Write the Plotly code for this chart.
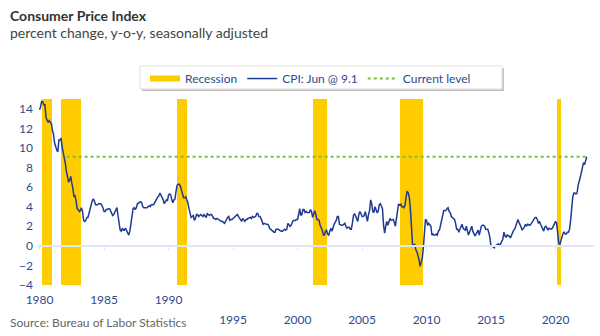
import plotly.graph_objects as go

# ---------------- data ----------------
cpi_start_year = 1980
cpi_yoy = [
    13.9, 14.2, 14.8, 14.7, 14.4, 14.4, 13.1, 12.9, 12.6, 12.8, 12.6, 12.5,   # 1980
    11.8, 11.4, 10.5, 10.0, 9.8, 9.6, 10.8, 10.8, 11.0, 10.1, 9.6, 8.9,       # 1981
    8.4, 7.6, 6.8, 6.5, 6.7, 7.1, 6.4, 5.9, 5.0, 5.1, 4.6, 3.8,               # 1982
    3.7, 3.5, 3.6, 3.9, 3.5, 2.6, 2.5, 2.6, 2.9, 2.9, 3.3, 3.8,               # 1983
    4.2, 4.6, 4.8, 4.6, 4.2, 4.2, 4.2, 4.3, 4.3, 4.3, 4.1, 3.9,               # 1984
    3.5, 3.5, 3.7, 3.7, 3.8, 3.8, 3.6, 3.3, 3.1, 3.2, 3.5, 3.8,               # 1985
    3.9, 3.1, 2.3, 1.6, 1.5, 1.8, 1.6, 1.6, 1.8, 1.5, 1.3, 1.1,               # 1986
    1.5, 2.1, 3.0, 3.8, 3.9, 3.7, 3.9, 4.3, 4.4, 4.5, 4.5, 4.4,               # 1987
    4.0, 3.9, 3.9, 3.9, 3.9, 4.0, 4.1, 4.0, 4.2, 4.2, 4.2, 4.4,               # 1988
    4.7, 4.8, 5.0, 5.1, 5.4, 5.2, 5.0, 4.7, 4.3, 4.5, 4.7, 4.6,               # 1989
    5.2, 5.3, 5.2, 4.7, 4.4, 4.7, 4.8, 5.6, 6.2, 6.3, 6.3, 6.1,               # 1990
    5.7, 5.3, 4.9, 4.9, 5.0, 4.7, 4.4, 3.8, 3.4, 2.9, 3.0, 3.1,               # 1991
    2.6, 2.8, 3.2, 3.2, 3.0, 3.1, 3.2, 3.1, 3.0, 3.2, 3.0, 2.9,               # 1992
    3.3, 3.2, 3.1, 3.2, 3.2, 3.0, 2.8, 2.8, 2.7, 2.8, 2.7, 2.7,               # 1993
    2.5, 2.5, 2.5, 2.4, 2.3, 2.5, 2.8, 2.9, 3.0, 2.6, 2.7, 2.7,               # 1994
    2.8, 2.9, 2.9, 3.1, 3.2, 3.0, 2.8, 2.6, 2.5, 2.8, 2.6, 2.5,               # 1995
    2.7, 2.7, 2.8, 2.9, 2.9, 2.8, 3.0, 2.9, 3.0, 3.0, 3.3, 3.3,               # 1996
    3.0, 3.0, 2.8, 2.5, 2.2, 2.3, 2.2, 2.2, 2.2, 2.1, 1.8, 1.7,               # 1997
    1.6, 1.4, 1.4, 1.4, 1.7, 1.7, 1.7, 1.6, 1.5, 1.5, 1.5, 1.6,               # 1998
    1.7, 1.6, 1.7, 2.3, 2.1, 2.0, 2.1, 2.3, 2.6, 2.6, 2.6, 2.7,               # 1999
    2.7, 3.2, 3.8, 3.1, 3.2, 3.7, 3.7, 3.4, 3.5, 3.4, 3.4, 3.4,               # 2000
    3.7, 3.5, 2.9, 3.3, 3.6, 3.2, 2.7, 2.7, 2.6, 2.1, 1.9, 1.6,               # 2001
    1.1, 1.1, 1.5, 1.6, 1.2, 1.1, 1.5, 1.8, 1.5, 2.0, 2.2, 2.4,               # 2002
    2.6, 3.0, 3.0, 2.2, 2.1, 2.1, 2.1, 2.2, 2.3, 2.0, 1.8, 1.9,               # 2003
    1.9, 1.7, 1.7, 2.3, 3.1, 3.3, 3.0, 2.7, 2.5, 3.2, 3.5, 3.3,               # 2004
    3.0, 3.0, 3.1, 3.5, 2.8, 2.5, 3.2, 3.6, 4.7, 4.3, 3.5, 3.4,               # 2005
    4.0, 3.6, 3.4, 3.5, 4.2, 4.3, 4.1, 3.8, 2.1, 1.3, 2.0, 2.5,               # 2006
    2.1, 2.4, 2.8, 2.6, 2.7, 2.7, 2.4, 2.0, 2.8, 3.5, 4.3, 4.1,               # 2007
    4.3, 4.0, 4.0, 3.9, 4.2, 5.0, 5.6, 5.4, 4.9, 3.7, 1.1, 0.1,               # 2008
    0.0, 0.2, -0.4, -0.6, -1.0, -1.4, -2.1, -1.5, -1.3, -0.2, 1.8, 2.7,       # 2009
    2.6, 2.1, 2.3, 2.2, 2.0, 1.1, 1.2, 1.1, 1.1, 1.2, 1.1, 1.5,               # 2010
    1.6, 2.1, 2.7, 3.2, 3.6, 3.6, 3.6, 3.8, 3.9, 3.5, 3.4, 3.0,               # 2011
    2.9, 2.9, 2.7, 2.3, 1.7, 1.7, 1.4, 1.7, 2.0, 2.2, 1.8, 1.7,               # 2012
    1.6, 2.0, 1.5, 1.1, 1.4, 1.8, 2.0, 1.5, 1.2, 1.0, 1.2, 1.5,               # 2013
    1.6, 1.1, 1.5, 2.0, 2.1, 2.1, 2.0, 1.7, 1.7, 1.7, 1.3, 0.8,               # 2014
    -0.1, 0.0, -0.1, -0.2, 0.0, 0.1, 0.2, 0.2, 0.0, 0.2, 0.5, 0.7,            # 2015
    1.4, 1.0, 0.9, 1.1, 1.0, 1.0, 0.8, 1.1, 1.5, 1.6, 1.7, 2.1,               # 2016
    2.5, 2.7, 2.4, 2.2, 1.9, 1.6, 1.7, 1.9, 2.2, 2.0, 2.2, 2.1,               # 2017
    2.1, 2.2, 2.4, 2.5, 2.8, 2.9, 2.9, 2.7, 2.3, 2.5, 2.2, 1.9,               # 2018
    1.6, 1.5, 1.9, 2.0, 1.8, 1.6, 1.8, 1.7, 1.7, 1.8, 2.1, 2.3,               # 2019
    2.5, 2.3, 1.5, 0.3, 0.1, 0.6, 1.0, 1.3, 1.4, 1.2, 1.2, 1.4,               # 2020
    1.4, 1.7, 2.6, 4.2, 5.0, 5.4, 5.4, 5.3, 5.4, 6.2, 6.8, 7.0,               # 2021
    7.5, 7.9, 8.5, 8.3, 8.6, 9.1,                                             # 2022
]
cpi_dates = [cpi_start_year + i / 12 for i in range(len(cpi_yoy))]

recession_starts = [1980.19, 1981.67, 1990.66, 2001.18, 2007.95, 2020.14]
recession_ends = [1980.97, 1983.22, 1991.43, 2002.26, 2009.73, 2020.45]

current_level = 9.1
current_level_start = 1982.1

y_min, y_max = -4, 15
x_min, x_max = 1979.88, 2022.98
upper_tick_years = [1980, 1985, 1990]
lower_tick_years = [1995, 2000, 2005, 2010, 2015, 2020]
all_tick_years = upper_tick_years + lower_tick_years

# ---------------- styles ----------------
FONT = "Lato"
BLUE_TXT = "#2E4B8C"
LINE_BLUE = "#1F3A93"
YELLOW = "#FFCC00"
GREEN = "#78BE43"
ZERO_LINE = "#DCE8F5"

fig = go.Figure()

fig.add_trace(go.Bar(
    x=[(s + e) / 2 for s, e in zip(recession_starts, recession_ends)],
    y=[y_max - y_min] * len(recession_starts),
    base=[y_min] * len(recession_starts),
    width=[e - s for s, e in zip(recession_starts, recession_ends)],
    marker=dict(color=YELLOW, line=dict(width=0)),
    name="Recession", showlegend=False,
    hoverinfo="skip",
))

# legend entry for the recession bars (wide flat swatch)
fig.add_trace(go.Scatter(
    x=[None], y=[None], mode="lines",
    line=dict(color=YELLOW, width=6),
    name="Recession",
))

fig.add_trace(go.Scatter(
    x=cpi_dates, y=cpi_yoy, mode="lines",
    line=dict(color=LINE_BLUE, width=1.5),
    name="CPI: Jun @ 9.1",
))

fig.add_trace(go.Scatter(
    x=[current_level_start, cpi_dates[-1]], y=[current_level, current_level],
    mode="lines", line=dict(color=GREEN, width=2, dash="dot"),
    name="Current level",
))

# invisible traces so the overlay axes are tied to data
fig.add_trace(go.Scatter(x=[x_min, x_max], y=[0, 0], xaxis="x2", mode="lines",
                         line=dict(width=0), showlegend=False, hoverinfo="skip"))
fig.add_trace(go.Scatter(x=[x_min, x_max], y=[0, 0], xaxis="x3", mode="lines",
                         line=dict(width=0), showlegend=False, hoverinfo="skip"))

tickfont = dict(family=FONT, size=12, color=BLUE_TXT)

def px_x(p):
    return (p - 38) / 556

def px_y(p):
    return 1 + (99 - p) / 186

fig.update_layout(
    width=600, height=336,
    margin=dict(l=38, r=6, t=99, b=51),
    paper_bgcolor="white", plot_bgcolor="white",
    font=dict(family=FONT, color=BLUE_TXT),
    showlegend=True,
    bargap=0,
    xaxis=dict(range=[x_min, x_max], tickvals=lower_tick_years, ticks="",
               showgrid=False, zeroline=False, showline=False,
               tickfont=tickfont, ticklabelstandoff=26),
    xaxis2=dict(range=[x_min, x_max], overlaying="x", anchor="y", side="bottom",
                tickvals=upper_tick_years, ticks="", showgrid=False,
                zeroline=False, showline=False, tickfont=tickfont,
                ticklabelstandoff=6),
    xaxis3=dict(range=[x_min, x_max], overlaying="x", anchor="free",
                position=(0 - y_min) / (y_max - y_min), side="bottom",
                tickvals=all_tick_years, ticks="outside", ticklen=3,
                tickcolor=ZERO_LINE, tickwidth=1, showticklabels=False,
                showgrid=False, zeroline=False, showline=True,
                linecolor=ZERO_LINE, linewidth=2),
    yaxis=dict(range=[y_min, y_max], dtick=2, tick0=0, showgrid=False,
               zeroline=False, showline=False, ticks="", tickfont=tickfont,
               ticklabelstandoff=4),
    legend=dict(orientation="h", x=px_x(145), xanchor="left", y=1.188,
                yanchor="top", bgcolor="rgba(0,0,0,0)", borderwidth=0,
                font=dict(family=FONT, size=12, color=BLUE_TXT),
                traceorder="normal"),
    shapes=[
        # legend shadow and frame
        dict(type="rect", xref="paper", yref="paper",
             x0=px_x(142), x1=px_x(504), y0=px_y(91), y1=px_y(68),
             fillcolor="#C4C4C4", line=dict(width=0), layer="above"),
        dict(type="rect", xref="paper", yref="paper",
             x0=px_x(140), x1=px_x(502), y0=px_y(89), y1=px_y(66),
             fillcolor="white", line=dict(color="#E2E2E2", width=1),
             layer="above"),
    ],
    annotations=[
        dict(text="<b>Consumer Price Index</b>", xref="paper", yref="paper",
             x=-0.054, y=1.4516, xanchor="left", yanchor="middle",
             showarrow=False, font=dict(family=FONT, size=14, color="#333333")),
        dict(text="percent change, y-o-y, seasonally adjusted", xref="paper",
             yref="paper", x=-0.054, y=1.36, xanchor="left", yanchor="middle",
             showarrow=False, font=dict(family=FONT, size=14, color="#444444")),
        dict(text="Source: Bureau of Labor Statistics", xref="paper",
             yref="paper", x=-0.054, y=-0.199, xanchor="left",
             yanchor="middle", showarrow=False,
             font=dict(family=FONT, size=12, color="#666666")),
    ],
)

fig.write_html("out.html")
